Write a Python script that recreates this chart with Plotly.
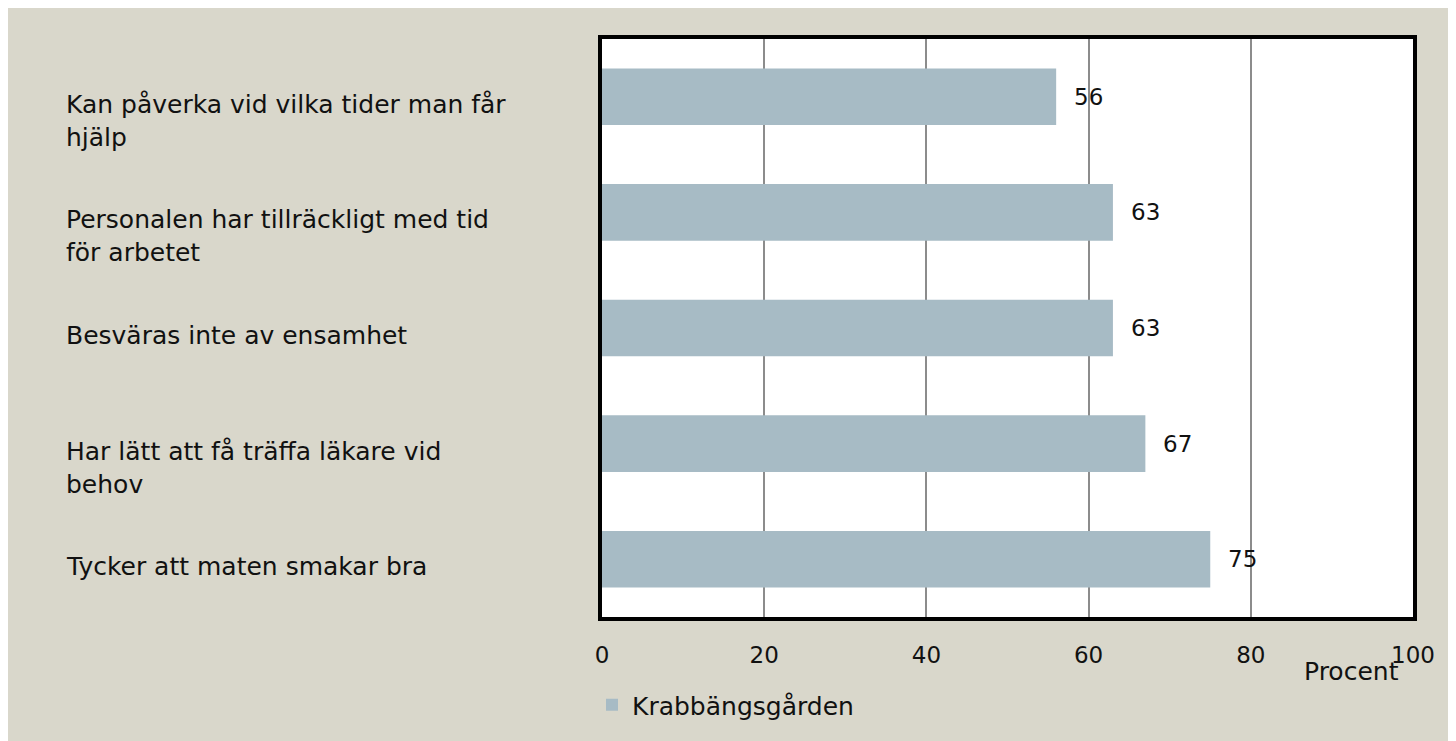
import plotly.graph_objects as go

categories = [
    "Kan påverka vid vilka tider man får<br>hjälp",
    "Personalen har tillräckligt med tid<br>för arbetet",
    "Besväras inte av ensamhet",
    "Har lätt att få träffa läkare vid<br>behov",
    "Tycker att maten smakar bra",
]
values = [56, 63, 63, 67, 75]
series_name = "Krabbängsgården"
tick_values = [0, 20, 40, 60, 80, 100]
x_title = "Procent"

BG = "#D9D7CB"
BAR = "#A7BBC5"
FONT = "DejaVu Sans"
FS_LAB = 25
FS_NUM = 23
W, H = 1456, 741
L, R, T, B = 594, 51, 31, 132
pw, ph = W - L - R, H - T - B

keys = [f"c{i}" for i in range(len(categories))]

fig = go.Figure()
fig.add_trace(go.Bar(
    x=values, y=keys, orientation="h", name=series_name,
    marker=dict(color=BAR, line=dict(width=0)),
    width=0.49,
))

annotations = []
for k, lab in zip(keys, categories):
    annotations.append(dict(
        x=-(L - 56) / pw, xref="paper", xanchor="left",
        y=k, yref="y", yanchor="top", yshift=9,
        text=lab, align="left", showarrow=False,
        font=dict(family=FONT, size=FS_LAB, color="#111111"),
    ))
for k, v in zip(keys, values):
    annotations.append(dict(
        x=v, xref="x", xanchor="left", xshift=16,
        y=k, yref="y", yanchor="middle",
        text=str(v), showarrow=False,
        font=dict(family=FONT, size=FS_NUM, color="#111111"),
    ))
annotations.append(dict(
    x=(1343 - L) / pw, xref="paper", xanchor="center",
    y=-(663 - T - ph) / ph, yref="paper", yanchor="middle",
    text=x_title, showarrow=False,
    font=dict(family=FONT, size=FS_LAB, color="#111111"),
))

fig.update_layout(
    width=W, height=H,
    margin=dict(l=L, r=R, t=T, b=B, pad=0),
    paper_bgcolor=BG, plot_bgcolor="white",
    font=dict(family=FONT, size=FS_NUM, color="#111111"),
    bargap=0.51,
    showlegend=True,
    legend=dict(orientation="h", x=-(L - 584) / pw, xanchor="left",
                y=-(697 - T - ph) / ph, yanchor="middle",
                bgcolor="rgba(0,0,0,0)", font=dict(family=FONT, size=FS_LAB)),
    annotations=annotations,
    xaxis=dict(range=[0, 100], tickvals=tick_values, showgrid=True,
               gridcolor="#8C8C8C", gridwidth=1.5, zeroline=False,
               showline=True, linecolor="black", linewidth=4, mirror=True,
               ticks="outside", ticklen=14, tickcolor="rgba(0,0,0,0)",
               tickfont=dict(family=FONT, size=FS_NUM)),
    yaxis=dict(categoryorder="array", categoryarray=keys, autorange="reversed",
               showticklabels=False, showgrid=False, zeroline=False,
               showline=True, linecolor="black", linewidth=4, mirror=True,
               ticks=""),
)

fig.write_html("out.html")
